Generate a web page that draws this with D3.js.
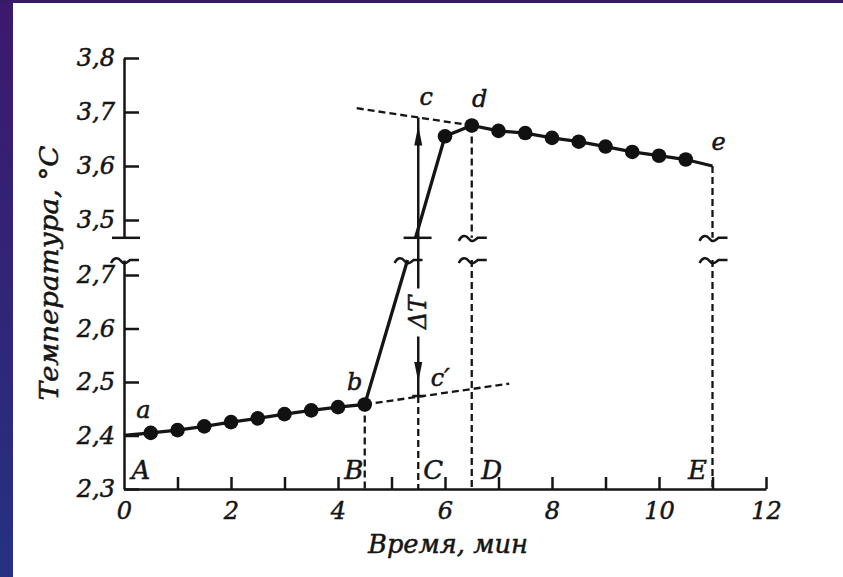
<!DOCTYPE html>
<meta charset="utf-8">
<script src="https://d3js.org/d3.v7.min.js"></script>
<style>
  body { margin: 0; background: #fff; }
  text { font-family: "DejaVu Serif", serif; font-style: italic; fill: #151515;
         stroke: #151515; stroke-width: 0.5px; }
  .axis path, .axis line { stroke: #151515; stroke-width: 2.5; }
  .axis text { font-size: 24px; }
</style>
<svg></svg>
<script>

// DATA

// heating curve, measured points before the reaction (a .. b)
var lowTimes = [0.5, 1, 1.5, 2, 2.5, 3, 3.5, 4, 4.5];
var lowTemps = [2.405, 2.41, 2.417, 2.425, 2.432, 2.44, 2.447, 2.453, 2.458];

// points after the jump (.. d .. e)
var highTimes = [6, 6.5, 7, 7.5, 8, 8.5, 9, 9.5, 10, 10.5];
var highTemps = [3.655, 3.675, 3.665, 3.661, 3.652, 3.645, 3.636, 3.626, 3.619, 3.612];

var curveStart = [0, 2.40];
var curveEnd = [11, 3.60];
var riseLow = [[4.5, 2.458], [5.3, 2.728]];
var riseHigh = [[5.45, 3.467], [6, 3.655]];

// dashed extrapolations
var upperFit = [[4.35, 3.707], [6.5, 3.675]];
var lowerFit = [[4.5, 2.458], [7.2, 2.497]];

// break of the temperature axis
var hiBreak = 3.467;
var loBreak = 2.728;

var hiTicks = [3.5, 3.6, 3.7, 3.8];
var loTicks = [2.3, 2.4, 2.5, 2.6, 2.7];
var xTicks = [0, 1, 2, 3, 4, 5, 6, 7, 8, 9, 10, 11, 12];

var markNames = ["A", "B", "C", "D", "E"];
var markTimes = [0, 4.5, 5.5, 6.5, 11];
var cTop = 3.69;    // c
var cBottom = 2.474; // c'


// GLOBALS

var width = 843;
var height = 577;

var svg = d3.select("svg")
    .attr("width", width)
    .attr("height", height);

var x = d3.scaleLinear().domain([0, 12]).range([124, 766]);
var yHi = d3.scaleLinear().domain([3.5, 3.8]).range([220, 58]);
var yLo = d3.scaleLinear().domain([2.3, 2.7]).range([489, 275]);

function y(v) { return v > 3 ? yHi(v) : yLo(v); }

var comma = function(d) { return d3.format(".1f")(d).replace(".", ","); };


// BACKGROUND FRAME

var grad = svg.append("defs").append("linearGradient")
    .attr("id", "frame")
    .attr("x1", 0).attr("y1", 0).attr("x2", 0).attr("y2", 1);
grad.append("stop").attr("offset", "0%").attr("stop-color", "#3c196c");
grad.append("stop").attr("offset", "100%").attr("stop-color", "#263182");

svg.append("rect").attr("width", width).attr("height", height).attr("fill", "#fff");
svg.append("rect").attr("width", 13).attr("height", height).attr("fill", "url(#frame)");
svg.append("rect").attr("width", width).attr("height", 3).attr("fill", "#351a68");


// AXES

var hiAxisScale = yHi.copy().domain([hiBreak, 3.8]).range([yHi(hiBreak), yHi(3.8)]);
var loAxisScale = yLo.copy().domain([2.3, loBreak]).range([yLo(2.3), yLo(loBreak)]);

svg.append("g")
    .attr("class", "axis")
    .attr("transform", "translate(" + x(0) + ",0)")
    .call(d3.axisLeft(hiAxisScale).tickValues(hiTicks).tickSize(-15).tickSizeOuter(0)
        .tickPadding(9).tickFormat(comma));

svg.append("g")
    .attr("class", "axis")
    .attr("transform", "translate(" + x(0) + ",0)")
    .call(d3.axisLeft(loAxisScale).tickValues(loTicks).tickSize(-15).tickSizeOuter(0)
        .tickPadding(9).tickFormat(comma));

var xAxis = svg.append("g")
    .attr("class", "axis")
    .attr("transform", "translate(0," + yLo(2.3) + ")")
    .call(d3.axisBottom(x).tickValues(xTicks).tickSize(-12).tickSizeOuter(0)
        .tickPadding(13).tickFormat(function(d) { return d % 2 ? "" : d; }));
xAxis.selectAll(".tick line").filter(function(d) { return d === 0; }).remove();


// BREAK MARKS

function breakMark(px, py, wavy) {
    var p = wavy
        ? "M" + (px - 13) + "," + (py + 3) + "c3,-6 7,-6 10,-2 s5,2 9,-1 L" + (px + 15) + "," + py
        : "M" + (px - 12) + "," + py + "L" + (px + 16) + "," + py;
    svg.append("path")
        .attr("d", p)
        .attr("fill", "none")
        .attr("stroke", "#151515")
        .attr("stroke-width", 2.5);
}

breakMark(x(0), yHi(hiBreak), false);
breakMark(x(0), yLo(loBreak), true);
breakMark(x(riseHigh[0][0]), yHi(hiBreak), false);
breakMark(x(riseLow[1][0]), yLo(loBreak), true);
[6.5, 11].forEach(function(t) {
    breakMark(x(t), yHi(hiBreak), true);
    breakMark(x(t), yLo(loBreak), true);
});


// DASHED GUIDES

var line = d3.line()
    .x(function(d) { return x(d[0]); })
    .y(function(d) { return y(d[1]); });

function dashed(pts) {
    svg.append("path")
        .attr("d", line(pts))
        .attr("fill", "none")
        .attr("stroke", "#151515")
        .attr("stroke-width", 2.3)
        .attr("stroke-dasharray", "7,4");
}

dashed(upperFit);
dashed(lowerFit);
dashed([[4.5, lowTemps[lowTemps.length - 1]], [4.5, 2.3]]);
dashed([[5.5, cBottom], [5.5, 2.3]]);
dashed([[6.5, 3.675], [6.5, hiBreak]]);
dashed([[6.5, loBreak], [6.5, 2.3]]);
dashed([[11, 3.60], [11, hiBreak]]);
dashed([[11, loBreak], [11, 2.3]]);


// DELTA T ARROW

var cx = x(5.5);
var labelY = yLo(2.63);

svg.append("path")
    .attr("d", "M" + cx + "," + y(cTop) + "L" + cx + "," + (labelY - 24) +
               "M" + cx + "," + (labelY + 24) + "L" + cx + "," + y(cBottom) +
               "M" + (cx - 6) + "," + y(cBottom) + "L" + (cx + 6) + "," + y(cBottom))
    .attr("fill", "none")
    .attr("stroke", "#151515")
    .attr("stroke-width", 2.5);

svg.append("path")
    .attr("d", "M" + cx + "," + (y(cTop) + 8) + "l-4,20 l8,0 z" +
               "M" + cx + "," + (y(cBottom) - 14) + "l-4,-20 l8,0 z")
    .attr("fill", "#151515");

svg.append("text")
    .attr("transform", "translate(" + (cx + 8) + "," + labelY + ") rotate(-90)")
    .attr("text-anchor", "middle")
    .style("font-size", "24px")
    .text("ΔT");


// CURVE

svg.append("path")
    .attr("d", line([curveStart].concat(d3.zip(lowTimes, lowTemps), [riseLow[1]])))
    .attr("fill", "none")
    .attr("stroke", "#151515")
    .attr("stroke-width", 3.3);

svg.append("path")
    .attr("d", line([riseHigh[0]].concat(d3.zip(highTimes, highTemps), [curveEnd])))
    .attr("fill", "none")
    .attr("stroke", "#151515")
    .attr("stroke-width", 3.3);

svg.selectAll("circle.dot")
    .data(d3.zip(lowTimes, lowTemps).concat(d3.zip(highTimes, highTemps)))
    .enter()
    .append("circle")
        .attr("class", "dot")
        .attr("cx", function(d) { return x(d[0]); })
        .attr("cy", function(d) { return y(d[1]); })
        .attr("r", 7.3)
        .attr("fill", "#111");


// LETTERS

var pointLabels = [
    ["a", 0.4, 2.405, -2, -15],
    ["b", 4.5, 2.458, -10, -14],
    ["c", 5.5, 3.707, 8, -3],
    ["d", 6.5, 3.707, 8, -1],
    ["e", 11, 3.64, 6, 6],
    ["c\u2032", 5.5, 2.474, 22, -10]
];

svg.selectAll("text.pt")
    .data(pointLabels)
    .enter()
    .append("text")
        .attr("class", "pt")
        .attr("x", function(d) { return x(d[1]) + d[3]; })
        .attr("y", function(d) { return y(d[2]) + d[4]; })
        .attr("text-anchor", "middle")
        .style("font-size", "24px")
        .text(function(d) { return d[0]; });

var markShift = [17, -11, 15, 20, -15];

svg.selectAll("text.mark")
    .data(d3.zip(markNames, markTimes))
    .enter()
    .append("text")
        .attr("class", "mark")
        .attr("x", function(d, i) { return x(d[1]) + markShift[i]; })
        .attr("y", yLo(2.3) - 10)
        .attr("text-anchor", "middle")
        .style("font-size", "26px")
        .text(function(d) { return d[0]; });


// TITLES

svg.append("text")
    .attr("x", 448)
    .attr("y", 553)
    .attr("text-anchor", "middle")
    .attr("textLength", 160)
    .attr("lengthAdjust", "spacingAndGlyphs")
    .style("font-size", "26px")
    .text("Время, мин");

svg.append("text")
    .attr("transform", "translate(58,273) rotate(-90)")
    .attr("text-anchor", "middle")
    .attr("textLength", 255)
    .attr("lengthAdjust", "spacingAndGlyphs")
    .style("font-size", "26px")
    .text("Температура, °С");

</script>
